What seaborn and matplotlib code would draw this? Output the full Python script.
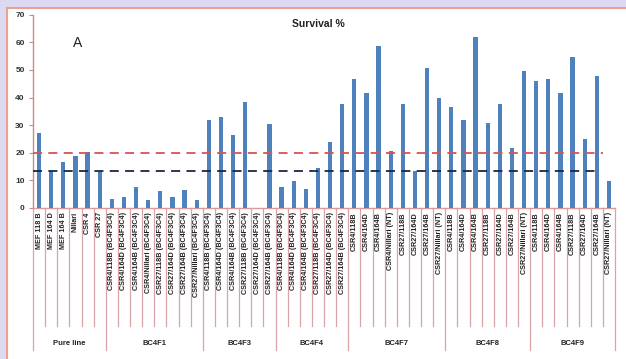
import matplotlib
matplotlib.use("Agg")
import matplotlib.pyplot as plt
from matplotlib.patches import Rectangle
import pandas as pd
import seaborn as sns

# grupos do eixo x (nivel externo)
grupos = ["Pure line", "BC4F1", "BC4F3", "BC4F4", "BC4F7", "BC4F8", "BC4F9"]

rotulos_pure = ["MEF 118 B", "MEF 164 D", "MEF 164 B", "Nillari", "CSR 4", "CSR 27"]
rotulos_bc4f1 = ["CSR4/118B (BC4F3C4)", "CSR4/164D (BC4F3C4)", "CSR4/164B (BC4F3C4)",
                 "CSR4/Nillari (BC4F3C4)", "CSR27/118B (BC4F3C4)", "CSR27/164D (BC4F3C4)",
                 "CSR27/164B (BC4F3C4)", "CSR27/Nillari (BC4F3C4)"]
rotulos_bc4f3 = ["CSR4/118B (BC4F3C4)", "CSR4/164D (BC4F3C4)", "CSR4/164B (BC4F3C4)",
                 "CSR27/118B (BC4F3C4)", "CSR27/164D (BC4F3C4)", "CSR27/164B (BC4F3C4)"]
rotulos_bc4f4 = ["CSR4/118B (BC4F3C4)", "CSR4/164D (BC4F3C4)", "CSR4/164B (BC4F3C4)",
                 "CSR27/118B (BC4F3C4)", "CSR27/164D (BC4F3C4)", "CSR27/164B (BC4F3C4)"]
rotulos_bc4f7 = ["CSR4/118B", "CSR4/164D", "CSR4/164B", "CSR4/Nillari (NT)",
                 "CSR27/118B", "CSR27/164D", "CSR27/164B", "CSR27/Nillari (NT)"]
rotulos_bc4f8 = ["CSR4/118B", "CSR4/164D", "CSR4/164B", "CSR27/118B",
                 "CSR27/164D", "CSR27/164B", "CSR27/Nillari (NT)"]
rotulos_bc4f9 = ["CSR4/118B", "CSR4/164D", "CSR4/164B", "CSR27/118B",
                 "CSR27/164D", "CSR27/164B", "CSR27/Nillari (NT)"]

# sobrevivencia (%)
surv_pure = [27.1, 13.3, 16.7, 18.8, 20.3, 13.3]
surv_bc4f1 = [3.2, 4.0, 7.7, 2.8, 6.1, 4.0, 6.4, 2.8]
surv_bc4f3 = [32.0, 33.0, 26.5, 38.5, 0.0, 30.6]
surv_bc4f4 = [7.7, 9.7, 6.8, 14.6, 23.9, 37.7]
surv_bc4f7 = [46.8, 41.8, 58.6, 20.5, 37.7, 13.3, 50.7, 39.8]
surv_bc4f8 = [36.7, 31.9, 61.9, 30.7, 37.7, 21.8, 49.5]
surv_bc4f9 = [45.9, 46.8, 41.7, 54.8, 24.9, 47.8, 9.6]

linha_vermelha = 20.0
linha_preta = 13.3

rotulos = [rotulos_pure, rotulos_bc4f1, rotulos_bc4f3, rotulos_bc4f4,
           rotulos_bc4f7, rotulos_bc4f8, rotulos_bc4f9]
valores = [surv_pure, surv_bc4f1, surv_bc4f3, surv_bc4f4,
           surv_bc4f7, surv_bc4f8, surv_bc4f9]

linhas = []
for g, rs, vs in zip(grupos, rotulos, valores):
    for r, v in zip(rs, vs):
        linhas.append({"grupo": g, "rotulo": r, "survival": v})
dados = pd.DataFrame(linhas)
dados["pos"] = range(len(dados))

plt.rcParams["font.family"] = ["Liberation Sans", "DejaVu Sans"]

fig = plt.figure(figsize=(6.26, 3.59), dpi=100)
fig.patch.set_facecolor("#dcd9f3")
# moldura do grafico (estilo excel)
moldura = Rectangle((7 / 626, -0.01), 1.0, 1 - 8 / 359 + 0.01, transform=fig.transFigure,
                    facecolor="white", edgecolor="#e8a28f", linewidth=1.5, zorder=-10)
fig.patches.append(moldura)

ax = fig.add_axes([33 / 626, 1 - 208 / 359, 582 / 626, 193.3 / 359])
ax.set_facecolor("none")

sns.barplot(x="pos", y="survival", data=dados, color="#4f81bd", width=0.35,
            saturation=1, ax=ax, zorder=3)

ax.axhline(linha_vermelha, xmin=0, xmax=0.98, color="#d9534f", linestyle=(0, (5, 3.5)),
           linewidth=1.3, zorder=4)
ax.axhline(linha_preta, xmin=0, xmax=0.975, color="#1d2740", linestyle=(0, (5, 3.5)),
           linewidth=1.3, zorder=4)

ax.set_xlim(-0.5, len(dados) - 0.5)
ax.set_ylim(0, 70)
ax.set_yticks(range(0, 71, 10))
ax.set_yticklabels([str(t) for t in range(0, 71, 10)], fontsize=6, fontweight="bold", color="#333333")
ax.tick_params(axis="y", length=3, width=0.8, color="#c98a8a", pad=3)

ax.set_xticks(dados["pos"])
ax.set_xticklabels(dados["rotulo"], rotation=90, fontsize=5.2, fontweight="bold",
                   va="top", ha="center", color="#222222")
ax.tick_params(axis="x", length=0, pad=3)

ax.set_xlabel("")
ax.set_ylabel("")
for lado in ["top", "right"]:
    ax.spines[lado].set_visible(False)
ax.spines["left"].set_color("#c98a8a")
ax.spines["bottom"].set_color("#d99a9a")
ax.spines["left"].set_linewidth(1.0)
ax.spines["bottom"].set_linewidth(1.0)

# separadores do eixo de categorias (dois niveis)
trans = ax.get_xaxis_transform()
inicio = 0
limites = [-0.5]
for rs in rotulos:
    inicio += len(rs)
    limites.append(inicio - 0.5)
for p in range(len(dados) + 1):
    x = p - 0.5
    fundo = -0.735 if x in limites else -0.61
    ax.plot([x, x], [0, fundo], transform=trans, color="#d9a3aa", linewidth=0.9,
            clip_on=False, zorder=1)
for g, a, b in zip(grupos, limites[:-1], limites[1:]):
    ax.text((a + b) / 2, -0.70, g, transform=trans, ha="center", va="center",
            fontsize=5.5, fontweight="bold", color="#222222")

ax.text(0.49, 0.952, "Survival %", transform=ax.transAxes, ha="center", va="center",
        fontsize=7.5, fontweight="bold", color="#222222")
ax.text(0.076, 0.854, "A", transform=ax.transAxes, ha="center", va="center",
        fontsize=10, color="#222222")

plt.savefig("out.png", dpi=100, facecolor=fig.get_facecolor())
